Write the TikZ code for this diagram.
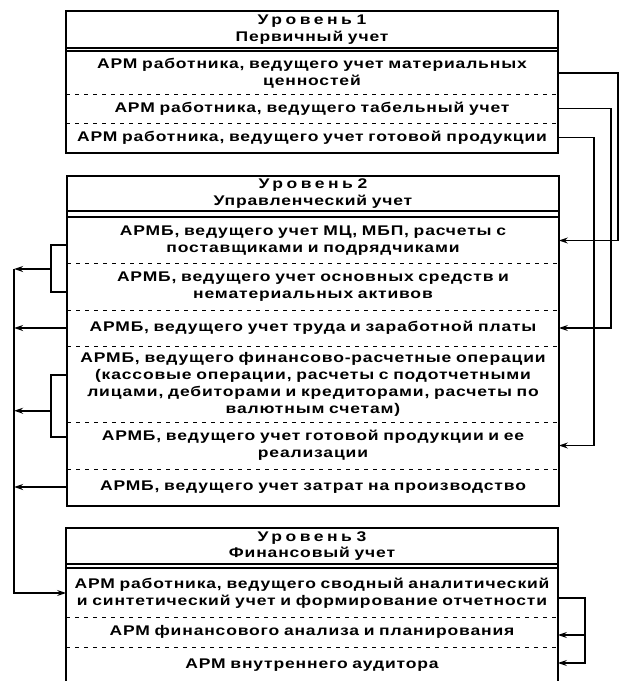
\documentclass[tikz,border=0pt]{standalone}
\usepackage{fontspec}
\setmainfont{Liberation Sans}[FakeStretch=1.25,LetterSpace=6]
\usetikzlibrary{calc,arrows.meta}
\newcommand\lvlname[1]{{\addfontfeature{LetterSpace=25}#1}}
\begin{document}
\begin{tikzpicture}[x=1pt,y=-1pt,>={Stealth[length=9pt,width=6pt]},line width=1.8pt,
  row/.style={text width=490pt,inner sep=0pt,align=center,font=\bfseries\fontsize{14}{17}\selectfont},
  lvl/.style={row,font=\bfseries\fontsize{14}{16.5}\selectfont},
  sep/.style={line width=0.9pt,dash pattern=on 4pt off 5pt},
  dbl/.style={line width=1.3pt}]
\useasboundingbox (0,0) rectangle (619,681);
\clip (0,0) rectangle (619,681);

% level 1
\node[lvl,minimum height=35pt] (h1) at (312,29.5) {\lvlname{Уровень 1}\\Первичный учет};
\node[row,minimum height=42pt] (p1) at (312,73) {АРМ работника, ведущего учет материальных\\ценностей};
\node[row,minimum height=29pt] (p2) at (312,108.5) {АРМ работника, ведущего табельный учет};
\node[row,minimum height=29pt] (p3) at (312,137.5) {АРМ работника, ведущего учет готовой продукции};
\draw (h1.north west) rectangle (p3.south east);
\draw[dbl] (h1.south west) -- (h1.south east);
\draw[dbl] (p1.north west) -- (p1.north east);
\draw[sep] (p1.south west) -- (p1.south east);
\draw[sep] (p2.south west) -- (p2.south east);

% level 2
\node[lvl,minimum height=33pt] (h2) at (313,193.5) {\lvlname{Уровень 2}\\Управленческий учет};
\node[row,minimum height=45pt] (m1) at (313,240.5) {АРМБ, ведущего учет МЦ, МБП, расчеты с\\поставщиками и подрядчиками};
\node[row,minimum height=47pt] (m2) at (313,286.5) {АРМБ, ведущего учет основных средств и\\нематериальных активов};
\node[row,minimum height=36pt] (m3) at (313,328) {АРМБ, ведущего учет труда и заработной платы};
\node[row,minimum height=76pt] (m4) at (313,384) {АРМБ, ведущего финансово-расчетные операции\\(кассовые операции, расчеты с подотчетными\\лицами, дебиторами и кредиторами, расчеты по\\валютным счетам)};
\node[row,minimum height=47pt] (m5) at (313,445.5) {АРМБ, ведущего учет готовой продукции и ее\\реализации};
\node[row,minimum height=36pt] (m6) at (313,487) {АРМБ, ведущего учет затрат на производство};
\draw (h2.north west) rectangle (m6.south east);
\draw[dbl] (h2.south west) -- (h2.south east);
\draw[dbl] (m1.north west) -- (m1.north east);
\foreach \r in {m1,m2,m3,m4,m5}
  \draw[sep] (\r.south west) -- (\r.south east);

% level 3
\node[lvl,minimum height=34pt] (h3) at (312,546) {\lvlname{Уровень 3}\\Финансовый учет};
\node[row,minimum height=48pt] (f1) at (312,593) {АРМ работника, ведущего сводный аналитический\\и синтетический учет и формирование отчетности};
\node[row,minimum height=30pt] (f2) at (312,632) {АРМ финансового анализа и планирования};
\node[row,minimum height=36pt] (f3) at (312,665) {АРМ внутреннего аудитора};
\draw (h3.north west) rectangle (f3.south east);
\draw[dbl] (h3.south west) -- (h3.south east);
\draw[dbl] (f1.north west) -- (f1.north east);
\draw[sep] (f1.south west) -- (f1.south east);
\draw[sep] (f2.south west) -- (f2.south east);

% level 1 -> level 2
\draw[->] (p1.east) -- ++(60,0) |- (m1.east);
\draw[->] (p2.east) -- ++(53,0) |- (m3.east);
\draw[->] (p3.east) -- ++(36,0) |- (m5.east);

% level 2 -> level 3
\draw ([yshift=-4.5pt]m1.west) -- ++(-16,0) |- ([yshift=-5.5pt]m2.west);
\draw ([yshift=9pt]m4.west) -- ++(-16,0) |- ([yshift=8.5pt]m5.west);
\coordinate (k1) at ($(m1.west)!0.5!(m2.west)+(-16,5.5)$);
\coordinate (k2) at ($(m4.west)!0.5!(m5.west)+(-16,-4)$);
\draw[->] (k1) -- ++(-37,0) coordinate (t1);
\draw[->] (m3.west) -- (m3.west -| t1);
\draw[->] (k2) -- (k2 -| t1);
\draw[->] (m6.west) -- (m6.west -| t1);
\draw[->] (t1) |- (f1.west);

% inside level 3
\draw[->] ([yshift=-5pt]f1.east) -- ++(27,0) |- ([yshift=2pt]f3.east);
\draw[->] ([xshift=27pt,yshift=-3pt]f2.east) -- ([yshift=-3pt]f2.east);
\end{tikzpicture}
\end{document}
